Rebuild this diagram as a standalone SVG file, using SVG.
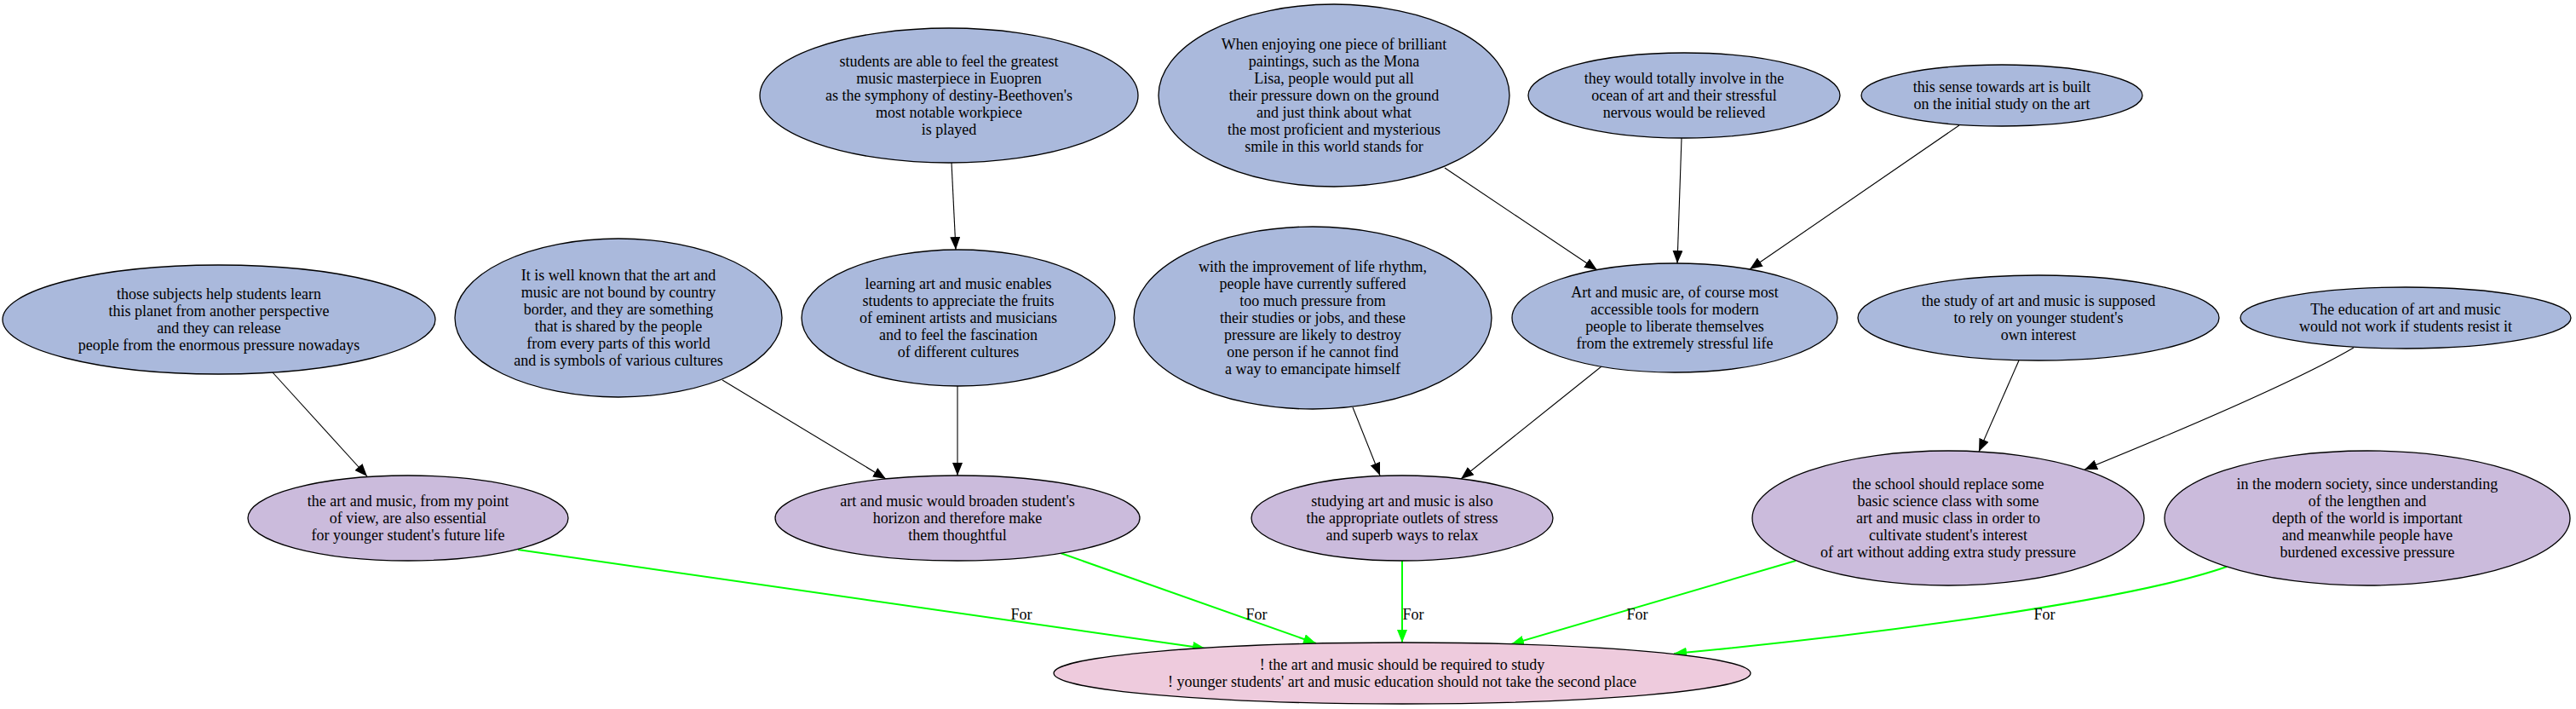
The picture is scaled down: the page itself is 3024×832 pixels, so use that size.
<svg xmlns="http://www.w3.org/2000/svg" width="3024" height="832" viewBox="0 0 3024 832">
<defs>
<style>
text{font-family:"Liberation Serif","Times New Roman",serif;font-size:18px;fill:#000;text-anchor:middle}
.b{fill:#aab9dc;stroke:#000;stroke-width:1.3}
.p{fill:#cbbbdc;stroke:#000;stroke-width:1.3}
.k{fill:#eecbdd;stroke:#000;stroke-width:1.3}
.e{fill:none;stroke:#000;stroke-width:1.1;marker-end:url(#ab)}
.g{fill:none;stroke:#00ff00;stroke-width:2;marker-end:url(#ag)}
</style>
<marker id="ab" markerUnits="userSpaceOnUse" markerWidth="16" markerHeight="12" refX="15" refY="6" orient="auto" viewBox="0 0 16 12"><path d="M0,0 L15,6 L0,12 z" fill="#000"/></marker>
<marker id="ag" markerUnits="userSpaceOnUse" markerWidth="16" markerHeight="12" refX="15" refY="6" orient="auto" viewBox="0 0 16 12"><path d="M0,0 L15,6 L0,12 z" fill="#00ff00"/></marker>
</defs>
<rect width="3024" height="832" fill="#fff"/>
<g id="connectors">
<path class="e" d="M1117,191 L1122,293"/>
<path class="e" d="M1696,197 L1875,317"/>
<path class="e" d="M1974,162 L1969,309"/>
<path class="e" d="M2300,147 L2054,316"/>
<path class="e" d="M320,437 L431,559"/>
<path class="e" d="M848,446 L1040,562"/>
<path class="e" d="M1124,453 L1124,558"/>
<path class="e" d="M1588,478 L1620,558"/>
<path class="e" d="M1880,430 L1715,562"/>
<path class="e" d="M2370,423 L2323,530"/>
<path class="e" d="M2763,408 C2700,445 2560,505 2447,551"/>
<path class="g" d="M608,645 L1415,761"/>
<path class="g" d="M1245,649 L1545,755"/>
<path class="g" d="M1646,658 L1646,754"/>
<path class="g" d="M2108,658 L1774,756"/>
<path class="g" d="M2614,665 C2500,705 2200,745 1965,767"/>
<text x="1199" y="727">For</text>
<text x="1475" y="727">For</text>
<text x="1659" y="727">For</text>
<text x="1922" y="727">For</text>
<text x="2400" y="727">For</text>
</g>
<g id="n1"><ellipse class="b" cx="257" cy="375" rx="254" ry="64"/><text x="257" y="351">those subjects help students learn<tspan x="257" dy="20">this planet from another perspective</tspan><tspan x="257" dy="20">and they can release</tspan><tspan x="257" dy="20">people from the enormous pressure nowadays</tspan></text></g>
<g id="n2"><ellipse class="b" cx="726" cy="373" rx="192" ry="93"/><text x="726" y="329">It is well known that the art and<tspan x="726" dy="20">music are not bound by country</tspan><tspan x="726" dy="20">border, and they are something</tspan><tspan x="726" dy="20">that is shared by the people</tspan><tspan x="726" dy="20">from every parts of this world</tspan><tspan x="726" dy="20">and is symbols of various cultures</tspan></text></g>
<g id="n3"><ellipse class="b" cx="1114" cy="112" rx="222" ry="79"/><text x="1114" y="78">students are able to feel the greatest<tspan x="1114" dy="20">music masterpiece in Euopren</tspan><tspan x="1114" dy="20">as the symphony of destiny-Beethoven's</tspan><tspan x="1114" dy="20">most notable workpiece</tspan><tspan x="1114" dy="20">is played</tspan></text></g>
<g id="n4"><ellipse class="b" cx="1566" cy="112" rx="206" ry="107"/><text x="1566" y="58">When enjoying one piece of brilliant<tspan x="1566" dy="20">paintings, such as the Mona</tspan><tspan x="1566" dy="20">Lisa, people would put all</tspan><tspan x="1566" dy="20">their pressure down on the ground</tspan><tspan x="1566" dy="20">and just think about what</tspan><tspan x="1566" dy="20">the most proficient and mysterious</tspan><tspan x="1566" dy="20">smile in this world stands for</tspan></text></g>
<g id="n5"><ellipse class="b" cx="1125" cy="373" rx="184" ry="80"/><text x="1125" y="339">learning art and music enables<tspan x="1125" dy="20">students to appreciate the fruits</tspan><tspan x="1125" dy="20">of eminent artists and musicians</tspan><tspan x="1125" dy="20">and to feel the fascination</tspan><tspan x="1125" dy="20">of different cultures</tspan></text></g>
<g id="n6"><ellipse class="b" cx="1541" cy="373" rx="210" ry="107"/><text x="1541" y="319">with the improvement of life rhythm,<tspan x="1541" dy="20">people have currently suffered</tspan><tspan x="1541" dy="20">too much pressure from</tspan><tspan x="1541" dy="20">their studies or jobs, and these</tspan><tspan x="1541" dy="20">pressure are likely to destroy</tspan><tspan x="1541" dy="20">one person if he cannot find</tspan><tspan x="1541" dy="20">a way to emancipate himself</tspan></text></g>
<g id="n7"><ellipse class="b" cx="1966" cy="373" rx="191" ry="64"/><text x="1966" y="349">Art and music are, of course most<tspan x="1966" dy="20">accessible tools for modern</tspan><tspan x="1966" dy="20">people to liberate themselves</tspan><tspan x="1966" dy="20">from the extremely stressful life</tspan></text></g>
<g id="n8"><ellipse class="b" cx="1977" cy="112" rx="183" ry="50"/><text x="1977" y="98">they would totally involve in the<tspan x="1977" dy="20">ocean of art and their stressful</tspan><tspan x="1977" dy="20">nervous would be relieved</tspan></text></g>
<g id="n9"><ellipse class="b" cx="2350" cy="112" rx="165" ry="36"/><text x="2350" y="108">this sense towards art is built<tspan x="2350" dy="20">on the initial study on the art</tspan></text></g>
<g id="n10"><ellipse class="b" cx="2393" cy="373" rx="212" ry="50"/><text x="2393" y="359">the study of art and music is supposed<tspan x="2393" dy="20">to rely on younger student's</tspan><tspan x="2393" dy="20">own interest</tspan></text></g>
<g id="n11"><ellipse class="b" cx="2824" cy="373" rx="194" ry="36"/><text x="2824" y="369">The education of art and music<tspan x="2824" dy="20">would not work if students resist it</tspan></text></g>
<g id="n12"><ellipse class="p" cx="479" cy="608" rx="188" ry="50"/><text x="479" y="594">the art and music, from my point<tspan x="479" dy="20">of view, are also essential</tspan><tspan x="479" dy="20">for younger student's future life</tspan></text></g>
<g id="n13"><ellipse class="p" cx="1124" cy="608" rx="214" ry="50"/><text x="1124" y="594">art and music would broaden student's<tspan x="1124" dy="20">horizon and therefore make</tspan><tspan x="1124" dy="20">them thoughtful</tspan></text></g>
<g id="n14"><ellipse class="p" cx="1646" cy="608" rx="177" ry="50"/><text x="1646" y="594">studying art and music is also<tspan x="1646" dy="20">the appropriate outlets of stress</tspan><tspan x="1646" dy="20">and superb ways to relax</tspan></text></g>
<g id="n15"><ellipse class="p" cx="2287" cy="608" rx="230" ry="79"/><text x="2287" y="574">the school should replace some<tspan x="2287" dy="20">basic science class with some</tspan><tspan x="2287" dy="20">art and music class in order to</tspan><tspan x="2287" dy="20">cultivate student's interest</tspan><tspan x="2287" dy="20">of art without adding extra study pressure</tspan></text></g>
<g id="n16"><ellipse class="p" cx="2779" cy="608" rx="238" ry="79"/><text x="2779" y="574">in the modern society, since understanding<tspan x="2779" dy="20">of the lengthen and</tspan><tspan x="2779" dy="20">depth of the world is important</tspan><tspan x="2779" dy="20">and meanwhile people have</tspan><tspan x="2779" dy="20">burdened excessive pressure</tspan></text></g>
<g id="n17"><ellipse class="k" cx="1646" cy="790" rx="409" ry="36"/><text x="1646" y="786">! the art and music should be required to study<tspan x="1646" dy="20">! younger students' art and music education should not take the second place</tspan></text></g>
</svg>
